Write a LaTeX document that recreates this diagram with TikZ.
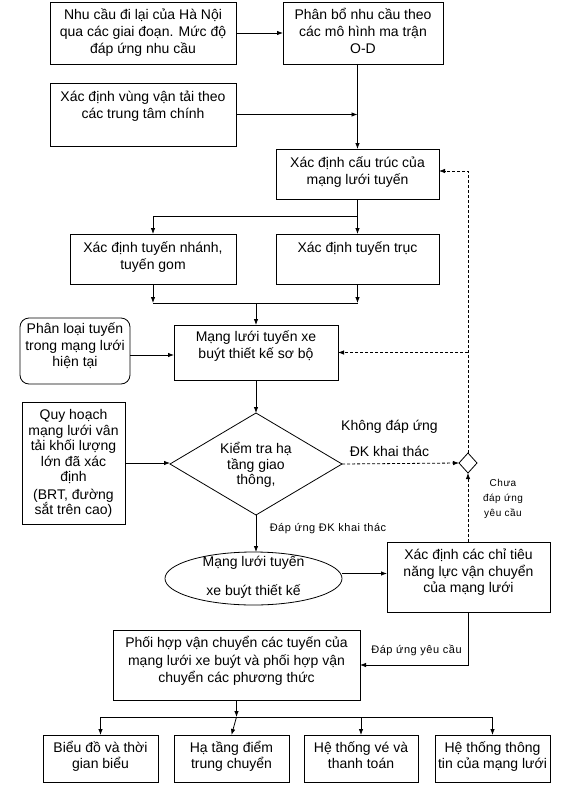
\documentclass[tikz,border=0pt]{standalone}
\usepackage{fontspec}
\setmainfont{Liberation Sans}
\newfontfamily\lblfont[LetterSpace=5]{Liberation Sans}
\usetikzlibrary{arrows.meta,shapes.geometric}
\newcommand\fst{\rule{0pt}{13pt}}
\newcommand\sst{\rule{0pt}{9pt}}
\tikzset{
  bx/.style={draw, line width=0.8pt, inner sep=0pt, outer sep=0pt},
  tx/.style={anchor=north, inner sep=0pt, outer sep=0pt, align=center, font=\fontsize{14}{17}\selectfont},
  lbl/.style={anchor=base, inner sep=0pt, font=\lblfont\fontsize{11}{13}\selectfont},
  arr/.style={-{Latex[length=6pt,width=4.5pt]}, line width=0.8pt},
  dsh/.style={arr, dash pattern=on 3pt off 2pt},
  ln/.style={line width=0.8pt},
}
\begin{document}
\begin{tikzpicture}[x=1pt,y=-1pt]
\path[use as bounding box, fill=white] (0,0) rectangle (568,789);
% boxes
\node[bx, minimum width=186pt, minimum height=62pt] (A) at (143,33) {};
\node[bx, minimum width=160pt, minimum height=62pt] (B) at (363,33) {};
\node[bx, minimum width=186pt, minimum height=63pt] (C) at (143,114.5) {};
\node[bx, minimum width=163pt, minimum height=50pt] (D) at (357.5,174) {};
\node[bx, minimum width=166pt, minimum height=50pt] (E) at (153,259) {};
\node[bx, minimum width=163pt, minimum height=50pt] (F) at (357.5,259) {};
\node[bx, minimum width=164pt, minimum height=55pt] (G) at (256,352.5) {};
\node[bx, rounded corners=9pt, minimum width=110pt, minimum height=66pt] (H) at (75,351) {};
\node[bx, minimum width=103pt, minimum height=122pt] (I) at (73.5,463) {};
\node[bx, diamond, minimum width=172pt, minimum height=102pt] (Q) at (256,464) {};
\node[bx, diamond, minimum width=18pt, minimum height=20pt] (S) at (468,463) {};
\node[bx, ellipse, minimum width=177pt, minimum height=53pt] (Ell) at (253.5,578.5) {};
\node[bx, minimum width=163pt, minimum height=70pt] (K) at (468.5,577) {};
\node[bx, minimum width=247pt, minimum height=70pt] (L) at (236.5,665) {};
\node[bx, minimum width=115pt, minimum height=47pt] (M1) at (100.5,758.5) {};
\node[bx, minimum width=115pt, minimum height=47pt] (M2) at (231.5,758.5) {};
\node[bx, minimum width=114pt, minimum height=47pt] (M3) at (361,758.5) {};
\node[bx, minimum width=115pt, minimum height=47pt] (M4) at (492.5,758.5) {};
% texts
\node[tx] (At) at (143,6.5) {\fst Nhu cầu đi lại của Hà Nội\\qua các giai đoạn. Mức độ\\đáp ứng nhu cầu};
\node[tx] (Bt) at (363,6.5) {\fst Phân bổ nhu cầu theo\\các mô hình ma trận\\O-D};
\node[tx] (Ct) at (143,88.5) {\fst Xác định vùng vận tải theo\\các trung tâm chính};
\node[tx] (Dt) at (357.5,154.5) {\fst Xác định cấu trúc của\\mạng lưới tuyến};
\node[tx] (Et) at (153,239.5) {\fst Xác định tuyến nhánh,\\tuyến gom};
\node[tx] (Ft) at (357.5,239.5) {\fst Xác định tuyến trục};
\node[tx] (Gt) at (256,328.5) {\fst Mạng lưới tuyến xe\\buýt thiết kế sơ bộ};
\node[tx, font=\fontsize{14}{16.5}\selectfont] (Ht) at (75,320.5) {\fst Phân loại tuyến\\trong mạng lưới\\hiện tại};
\node[tx, font=\fontsize{14}{15.5}\selectfont] (It) at (73.5,406.5) {\fst Quy hoạch\\mạng lưới vân\\tải khối lượng\\lớn đã xác\\định\\[2pt](BRT, đường\\sắt trên cao)};
\node[tx, font=\fontsize{14}{15.5}\selectfont] (Qt) at (256,440.5) {\fst Kiểm tra hạ\\tầng giao\\thông,};
\node[tx, font=\fontsize{14}{29}\selectfont] (Ellt) at (253.5,553.5) {\fst Mạng lưới tuyến\\xe buýt thiết kế};
\node[tx, font=\fontsize{14}{16.5}\selectfont] (Kt) at (468.5,546.5) {\fst Xác định các chỉ tiêu\\năng lực vận chuyển\\của mạng lưới};
\node[tx, font=\fontsize{14}{17.5}\selectfont] (Lt) at (236.5,634.5) {\fst Phối hợp vận chuyển các tuyến của\\mạng lưới xe buýt và phối hợp vận\\chuyển các phương thức};
\node[tx, font=\fontsize{14}{15.5}\selectfont] (M1t) at (100.5,739.5) {\fst Biểu đồ và thời\\gian biểu};
\node[tx, font=\fontsize{14}{15.5}\selectfont] (M2t) at (231.5,739.5) {\fst Hạ tầng điểm\\trung chuyển};
\node[tx, font=\fontsize{14}{15.5}\selectfont] (M3t) at (361,739.5) {\fst Hệ thống vé và\\thanh toán};
\node[tx, font=\fontsize{14}{15.5}\selectfont] (M4t) at (492.5,739.5) {\fst Hệ thống thông\\tin của mạng lưới};
% labels
\node[anchor=base, inner sep=0pt, font=\fontsize{14}{17}\selectfont] (l1) at (389.5,430.5) {Không đáp ứng};
\node[anchor=base, inner sep=0pt, font=\fontsize{14}{17}\selectfont] (l2) at (389.5,456.5) {ĐK khai thác};
\node[tx, font=\lblfont\fontsize{10}{15}\selectfont] (l3) at (503,477.5) {\sst Chưa\\đáp ứng\\yêu cầu};
\node[lbl] (l4) at (328,531) {Đáp ứng ĐK khai thác};
\node[lbl] (l5) at (416.5,653) {Đáp ứng yêu cầu};
% junctions
\coordinate (j1) at (357.5,216);
\coordinate (j2) at (256,303);
\coordinate (j3) at (236.5,717);
% connectors
\draw[arr] (A.east) -- (B.west);
\draw[arr] (D.north |- B.south) -- (D.north);
\draw[arr] (C.east) -- (C.east -| D.north);
\draw[arr] (D.south) -- (F.north);
\draw[arr] (j1) -| (E.north);
\draw[arr] (E.south) -- (E.south |- j2);
\draw[arr] (F.south) -- (F.south |- j2);
\draw[ln] (E.south |- j2) -- (F.south |- j2);
\draw[arr] (j2) -- (G.north);
\draw[arr] ([yshift=-4pt]H.east) -- ([yshift=-4pt]H.east -| G.west);
\draw[arr] (G.south) -- (Q.north);
\draw[arr] (I.east) -- (I.east -| Q.west);
\draw[dsh] (Q.east) -- (S.west);
\draw[dsh] (K.north -| S.south) -- (S.south);
\draw[dsh] (S.north) |- ([yshift=3pt]D.east);
\draw[dsh] (S.north |- G.east) -- (G.east);
\draw[arr] (Q.south) -- (Q.south |- Ell.north);
\draw[arr] ([yshift=5pt]Ell.east) -- ([yshift=5pt]Ell.east -| K.west);
\draw[arr] (K.south) |- (L.east);
\draw[arr] (L.south) -- (j3);
\draw[ln] (M1.north |- j3) -- (M4.north |- j3);
\draw[arr] (M1.north |- j3) -- (M1.north);
\draw[arr] (j3) -- (M2.north);
\draw[arr] (M3.north |- j3) -- (M3.north);
\draw[arr] (M4.north |- j3) -- (M4.north);
\end{tikzpicture}
\end{document}
